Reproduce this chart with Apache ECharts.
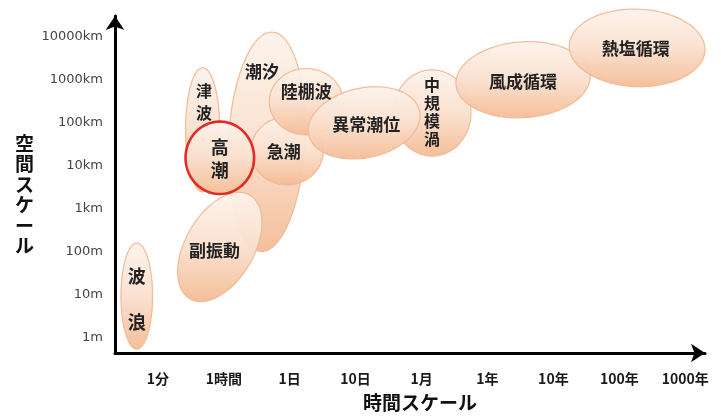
<!DOCTYPE html>
<html>
<head>
<meta charset="utf-8">
<script src="https://cdn.jsdelivr.net/npm/echarts@6/dist/echarts.min.js"></script>
<style>html,body{margin:0;padding:0;background:#fff;}#chart{width:721px;height:417px;}</style>
</head>
<body>
<div id="chart"></div>
<script>
// ---- data ----
const timeLabels = ['1分', '1時間', '1日', '10日', '1月', '1年', '10年', '100年', '1000年'];
const spaceLabels = ['1m', '10m', '100m', '1km', '10km', '100km', '1000km', '10000km'];
const timeTicks = [0, 1, 2, 3, 4, 5, 6, 7, 8];
const spaceTicks = [0, 1, 2, 3, 4, 5, 6, 7];

// phenomena (drawing order), time index scale / log10(metres)
const phenomena = ['波浪', '潮汐', '津波', '副振動', '急潮', '高潮', '陸棚波', '中規模渦', '異常潮位', '風成循環', '熱塩循環'];
const labelTexts = ['波\n浪', '潮汐', '津\n波', '副振動', '急潮', '高\n潮', '陸棚波', '中\n規\n模\n渦', '異常潮位', '風成循環', '熱塩循環'];
const centerTime  = [-0.32, 1.65, 0.68, 0.94, 1.96, 0.94, 2.25, 4.16, 3.13, 5.54, 7.27];
const centerSpace = [0.97, 4.55, 4.83, 2.11, 4.34, 4.18, 5.48, 5.22, 4.99, 5.99, 6.73];
const halfTime    = [0.24, 0.58, 0.26, 0.52, 0.55, 0.52, 0.56, 0.59, 0.86, 1.02, 1.03];
const halfSpace   = [1.23, 2.55, 1.44, 1.39, 0.79, 0.84, 0.77, 1.00, 0.81, 0.88, 0.90];
const tiltDeg     = [0, 3, 0, 30, 0, 0, 0, 0, -12, -4, 2];
const labelTime   = [-0.32, 1.58, 0.70, 0.86, 1.91, 0.94, 2.25, 4.16, 3.16, 5.54, 7.25];
const labelSpace  = [0.90, 6.17, 5.48, 2.02, 4.32, 4.15, 5.71, 5.24, 4.94, 5.96, 6.71];
const highlighted = '高潮';

// ---- styles ----
const labelStyle = {
  '波浪': {size: 18, lh: 46},
  '津波': {size: 16, lh: 22},
  '高潮': {size: 18, lh: 23},
  '中規模渦': {size: 16, lh: 18}
};
const CJK = '"Noto Sans CJK JP", "Noto Sans CJK SC", sans-serif';

const chart = echarts.init(document.getElementById('chart'), null, {renderer: 'canvas'});

function renderItem(params, api) {
  const i = params.dataIndex;
  const name = phenomena[i];
  const c = api.coord([centerTime[i], centerSpace[i]]);
  const s = api.size([halfTime[i], halfSpace[i]]);
  const rx = s[0], ry = s[1];
  const th = tiltDeg[i] * Math.PI / 180;
  const pts = [];
  const N = 90;
  for (let k = 0; k < N; k++) {
    const t = 2 * Math.PI * k / N;
    const ex = rx * Math.cos(t), ey = ry * Math.sin(t);
    pts.push([c[0] + ex * Math.cos(th) - ey * Math.sin(th),
              c[1] + ex * Math.sin(th) + ey * Math.cos(th)]);
  }
  const lp = api.coord([labelTime[i], labelSpace[i]]);
  const ls = labelStyle[name] || {size: 17, lh: 20};
  const isHi = name === highlighted;
  return {
    type: 'group',
    children: [
      {
        type: 'polygon',
        z2: i * 2,
        shape: {points: pts, smooth: 0},
        style: {
          fill: new echarts.graphic.LinearGradient(0, 0, 0, 1, [
            {offset: 0, color: '#fdf3ec'},
            {offset: 0.5, color: '#fae0ce'},
            {offset: 1, color: '#f4bb94'}
          ]),
          stroke: isHi ? '#e3201c' : '#f1b892',
          lineWidth: isHi ? 2.6 : 1.2,
          opacity: 0.95
        }
      },
      {
        type: 'text',
        z2: 100,
        x: lp[0],
        y: lp[1],
        style: {
          text: labelTexts[i],
          fontFamily: CJK,
          fontWeight: 'bold',
          fontSize: ls.size,
          lineHeight: ls.lh,
          fill: '#222',
          align: 'center',
          verticalAlign: 'middle'
        }
      }
    ]
  };
}

const option = {
  backgroundColor: '#fff',
  animation: false,
  grid: {left: 115, right: 16, top: 16, bottom: 64},
  xAxis: {
    type: 'value',
    min: -0.65,
    max: 8.3,
    name: '時間スケール',
    nameLocation: 'middle',
    nameGap: 40,
    nameTextStyle: {fontFamily: CJK, fontWeight: 'bold', fontSize: 19, color: '#111', padding: [0, 0, 0, 20], backgroundColor: 'rgba(255,255,255,0)'},
    splitLine: {show: false},
    axisTick: {show: false},
    axisLine: {show: true, onZero: false, symbol: ['none', 'arrow'], symbolSize: [14, 14], lineStyle: {color: '#000', width: 3}},
    axisLabel: {
      customValues: timeTicks,
      formatter: function (v) { return timeLabels[Math.round(v)]; },
      margin: 19,
      fontFamily: CJK,
      fontWeight: 'bold',
      fontSize: 14,
      color: '#1a1a1a'
    }
  },
  yAxis: {
    type: 'value',
    min: -0.35,
    max: 7.47,
    name: '\n空\n間\nス\nケ\nー\nル',
    nameLocation: 'middle',
    nameRotate: 0,
    nameGap: 81,
    nameTextStyle: {fontFamily: CJK, fontWeight: 'bold', fontSize: 19, lineHeight: 20.5, color: '#111'},
    splitLine: {show: false},
    axisTick: {show: false},
    axisLine: {show: true, onZero: false, symbol: ['none', 'arrow'], symbolSize: [14, 14], lineStyle: {color: '#000', width: 3}},
    axisLabel: {
      customValues: spaceTicks,
      formatter: function (v) { return spaceLabels[Math.round(v)]; },
      margin: 12,
      fontFamily: '"DejaVu Sans", sans-serif',
      fontSize: 13,
      color: '#444'
    }
  },
  series: [{
    type: 'custom',
    clip: false,
    renderItem: renderItem,
    encode: {x: 0, y: 1},
    data: phenomena.map(function (n, i) { return {name: n, value: [centerTime[i], centerSpace[i]]}; })
  }]
};
chart.setOption(option);
</script>
</body>
</html>
